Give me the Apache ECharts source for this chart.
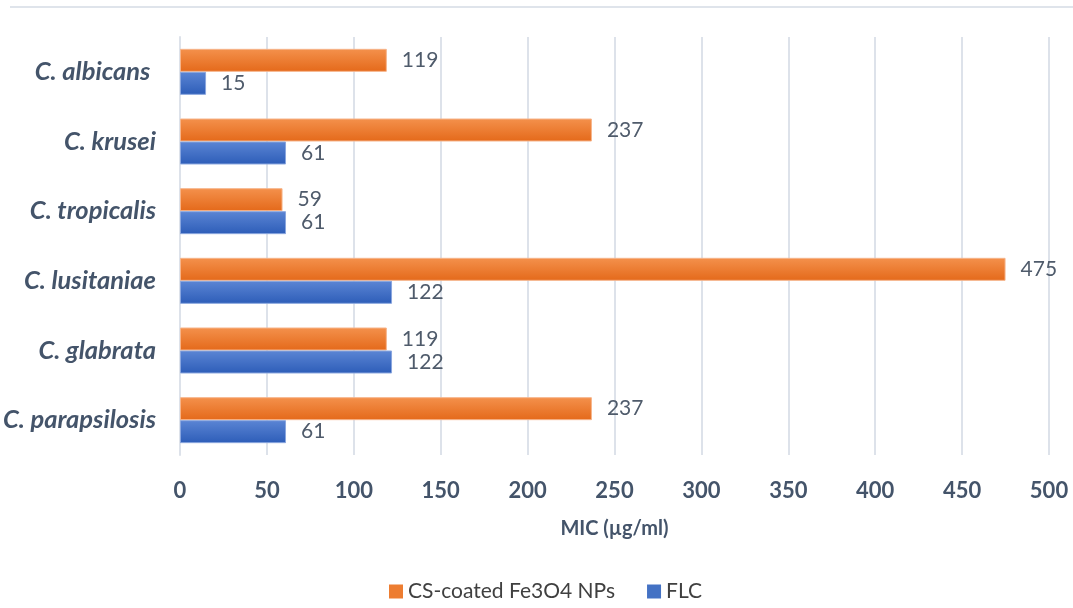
<!DOCTYPE html>
<html>
<head>
<meta charset="utf-8">
<script src="https://cdn.jsdelivr.net/npm/echarts@6/dist/echarts.min.js"></script>
<style>
  html, body { margin: 0; padding: 0; background: #ffffff; }
  #chart { width: 1073px; height: 608px; }
</style>
</head>
<body>
<div id="chart"></div>
<script>
// Candida species, top to bottom
const species = ['C. albicans ', 'C. krusei', 'C. tropicalis', 'C. lusitaniae', 'C. glabrata', 'C. parapsilosis'];
// MIC values (µg/ml)
const csCoatedNPs = [119, 237, 59, 475, 119, 237];
const flc = [15, 61, 61, 122, 122, 61];
const seriesNames = ['CS-coated Fe3O4 NPs', 'FLC'];
const xTicks = { min: 0, max: 500, interval: 50 };

const FONT = 'Lato, "Open Sans", sans-serif';
const TEXT = '#44546a';

const chart = echarts.init(document.getElementById('chart'), null, { renderer: 'canvas' });

function grad(top, bottom) {
  return new echarts.graphic.LinearGradient(0, 0, 0, 1, [
    { offset: 0, color: top },
    { offset: 1, color: bottom }
  ]);
}

const valueLabel = {
  show: true,
  position: 'right',
  distance: 15,
  fontFamily: FONT,
  fontSize: 21,
  color: '#4f5b6b'
};

chart.setOption({
  animation: false,
  backgroundColor: '#ffffff',
  textStyle: { fontFamily: FONT },
  graphic: [{
    type: 'line',
    shape: { x1: 10, y1: 7, x2: 1073, y2: 7 },
    style: { stroke: '#dfe4eb', lineWidth: 2 },
    silent: true
  }],
  grid: { left: 180, right: 24, top: 37, bottom: 153, containLabel: false },
  legend: {
    bottom: 1,
    left: 384,
    itemWidth: 14,
    itemHeight: 14,
    itemGap: 32,
    icon: 'rect',
    textStyle: { fontFamily: FONT, fontSize: 21, color: '#404040' },
    data: [
      { name: seriesNames[0], itemStyle: { color: '#ed7d31', borderWidth: 0 } },
      { name: seriesNames[1], itemStyle: { color: '#4472c4', borderWidth: 0 } }
    ]
  },
  xAxis: {
    type: 'value',
    min: xTicks.min,
    max: xTicks.max,
    interval: xTicks.interval,
    name: 'MIC (µg/ml)',
    nameLocation: 'middle',
    nameGap: 64,
    nameTextStyle: { fontFamily: FONT, fontSize: 20, fontWeight: 'bold', color: TEXT },
    axisLine: { show: false },
    axisTick: { show: false },
    axisLabel: { margin: 25, fontFamily: FONT, fontSize: 22, fontWeight: 'bold', color: TEXT },
    splitLine: { show: true, lineStyle: { color: '#dde2ea', width: 2 } }
  },
  yAxis: {
    type: 'category',
    inverse: true,
    data: species,
    axisLine: { show: true, lineStyle: { color: '#dde2ea', width: 2 } },
    axisTick: { show: false },
    axisLabel: {
      margin: 24,
      fontFamily: FONT,
      fontSize: 25.5,
      fontWeight: 'bold',
      fontStyle: 'italic',
      color: TEXT
    }
  },
  series: [
    {
      name: seriesNames[0],
      type: 'bar',
      data: csCoatedNPs,
      barGap: '0%',
      barCategoryGap: '34%',
      itemStyle: { color: grad('#f4914c', '#e4691a'), borderColor: '#f6b48a', borderWidth: 1 },
      label: valueLabel
    },
    {
      name: seriesNames[1],
      type: 'bar',
      data: flc,
      barGap: '0%',
      barCategoryGap: '34%',
      itemStyle: { color: grad('#5b85d4', '#2d5db8'), borderColor: '#8aa6de', borderWidth: 1 },
      label: valueLabel
    }
  ]
});
</script>
</body>
</html>
